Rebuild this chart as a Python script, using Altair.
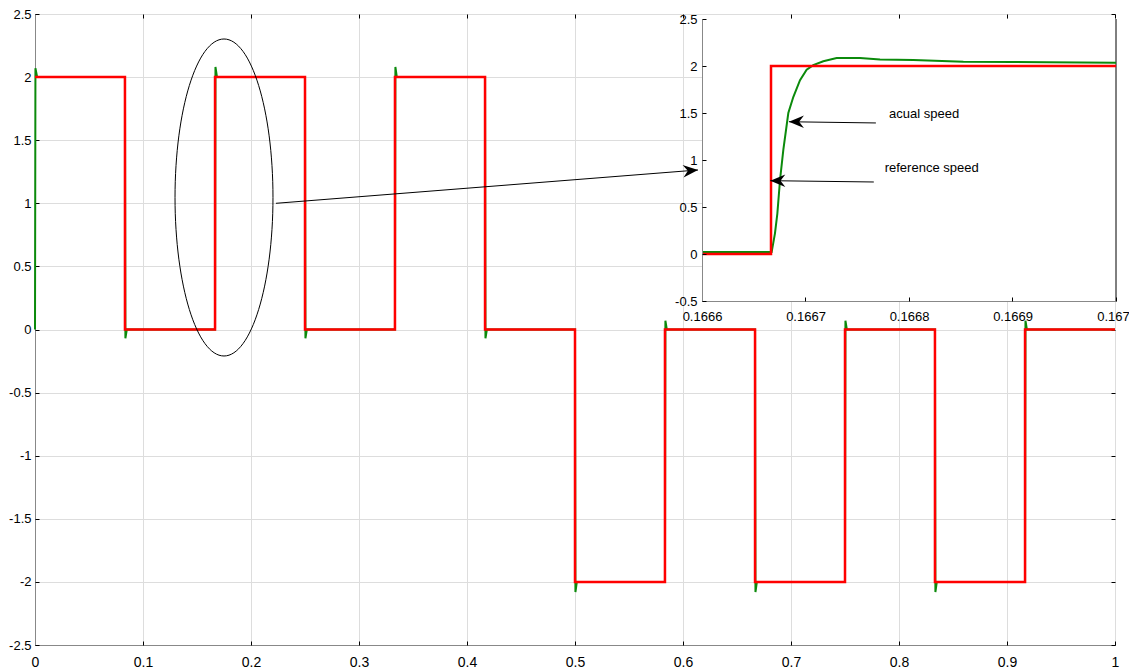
import altair as alt
import pandas as pd

# ---------------- main chart data ----------------
ref_t = [0, 0.0833, 0.1667, 0.25, 0.3333, 0.4167, 0.5, 0.5833, 0.6667, 0.75, 0.8333, 0.9167, 1.0]
ref_v = [2, 0, 2, 0, 2, 0, -2, 0, -2, 0, -2, 0, 0]

act_t = [0, 0.0004, 0.002,
         0.0833, 0.0837, 0.085,
         0.1667, 0.1671, 0.1685,
         0.25, 0.2504, 0.2517,
         0.3333, 0.3337, 0.335,
         0.4167, 0.4171, 0.4184,
         0.5, 0.5004, 0.5017,
         0.5833, 0.5837, 0.585,
         0.6667, 0.6671, 0.6684,
         0.75, 0.7504, 0.7517,
         0.8333, 0.8337, 0.835,
         0.9167, 0.9171, 0.9184,
         1.0]
act_v = [0, 2.07, 2,
         2, -0.07, 0,
         0, 2.08, 2,
         2, -0.07, 0,
         0, 2.08, 2,
         2, -0.07, 0,
         0, -2.08, -2,
         -2, 0.07, 0,
         0, -2.08, -2,
         -2, 0.07, 0,
         0, -2.08, -2,
         -2, 0.07, 0,
         0]

main_x_ticks = [0, 0.1, 0.2, 0.3, 0.4, 0.5, 0.6, 0.7, 0.8, 0.9, 1]
main_y_ticks = [-2.5, -2, -1.5, -1, -0.5, 0, 0.5, 1, 1.5, 2, 2.5]

ellipse_x = [0.175]
ellipse_y = [1.046]
main_arrow_x = [0.2231, 0.6139]
main_arrow_y = [1.0, 1.264]

# ---------------- inset data ----------------
zoom_ref_t = [0.1666, 0.16666667, 0.167]
zoom_ref_v = [0, 2, 2]

zoom_act_t = [0.1666, 0.1666673, 0.1666705, 0.1666728, 0.1666754, 0.1666786, 0.1666834,
              0.1666882, 0.1666947, 0.1667011, 0.1667075, 0.1667172, 0.1667301, 0.1667527,
              0.1667720, 0.1668042, 0.1668525, 0.1669008, 0.1669330, 0.1670]
zoom_act_v = [0.02, 0.02, 0.22, 0.43, 0.79, 1.11, 1.50,
              1.67, 1.85, 1.96, 2.01, 2.05, 2.085, 2.085,
              2.07, 2.064, 2.046, 2.043, 2.039, 2.035]

inset_x_ticks = [0.1666, 0.1667, 0.1668, 0.1669, 0.167]
inset_y_ticks = [-0.5, 0, 0.5, 1, 1.5, 2, 2.5]

labels = ["acual speed", "reference speed"]
label_x = [0.16678068, 0.16677652]
label_y = [1.447, 0.872]
arrow_x1 = [0.166768, 0.166766]
arrow_y1 = [1.394, 0.766]
arrow_x2 = [0.166684, 0.166666]
arrow_y2 = [1.407, 0.780]

FONT = "Liberation Sans"
ARROW = "M0,0 L-1,-0.42 L-0.68,0 L-1,0.42 Z"
ELLIPSE = ("M0,-1 C0.1707,-1 0.309,-0.5523 0.309,0 C0.309,0.5523 0.1707,1 0,1 "
           "C-0.1707,1 -0.309,0.5523 -0.309,0 C-0.309,-0.5523 -0.1707,-1 0,-1 Z")

W, H = 1080, 631
LBL = "datum.value + ''"

# ---------------- main scales / axes ----------------
mx_scale = alt.Scale(domain=[0, 1], nice=False, zero=False)
my_scale = alt.Scale(domain=[-2.5, 2.5], nice=False, zero=False)
mx_axis = alt.Axis(values=main_x_ticks, labelExpr=LBL, grid=True, ticks=False, orient="bottom",
                   labelPadding=10, labelFlush=False, title=None, labelFontSize=14)
my_axis = alt.Axis(values=main_y_ticks, labelExpr=LBL, grid=True, ticks=False, orient="left",
                   labelPadding=4, title=None, labelFontSize=13)


def tick_axis(values, orient, offset):
    return alt.Axis(values=values, orient=orient, offset=offset, labels=False, domain=False,
                    grid=False, ticks=True, tickSize=4, tickColor="black", tickWidth=1,
                    title=None)


def MX(f, axis=None):
    return alt.X(f, type="quantitative", scale=mx_scale, axis=axis)


def MY(f, axis=None):
    return alt.Y(f, type="quantitative", scale=my_scale, axis=axis)


ref_df = pd.DataFrame({"t": ref_t, "v": ref_v})
act_df = pd.DataFrame({"t": act_t, "v": act_v})

green_main = alt.Chart(act_df).mark_line(color="#0b8a0b", strokeWidth=2).encode(
    x=MX("t", mx_axis), y=MY("v", my_axis), order="t:Q")
ticks_a = alt.Chart(ref_df).mark_line(opacity=0).encode(
    x=MX("t", tick_axis(main_x_ticks, "bottom", -4)),
    y=MY("v", tick_axis(main_y_ticks, "left", -4)))
ticks_b = alt.Chart(ref_df).mark_line(opacity=0).encode(
    x=MX("t", tick_axis(main_x_ticks, "top", -4)),
    y=MY("v", tick_axis(main_y_ticks, "right", -4)))
red_main = alt.Chart(ref_df).mark_line(color="#ff0000", strokeWidth=2.5, interpolate="step-after").encode(
    x=MX("t"), y=MY("v"))
ellipse = alt.Chart(pd.DataFrame({"t": ellipse_x, "v": ellipse_y})).mark_point(
    shape=ELLIPSE, size=100489, filled=False, stroke="black", strokeWidth=1, opacity=1).encode(
    x=MX("t"), y=MY("v"))
main_shaft = alt.Chart(pd.DataFrame({"t": [main_arrow_x[0]], "v": [main_arrow_y[0]],
                                     "t2": [main_arrow_x[1]], "v2": [main_arrow_y[1]]})).mark_rule(
    color="black", strokeWidth=1).encode(x=MX("t"), y=MY("v"), x2="t2", y2="v2")
main_head = alt.Chart(pd.DataFrame({"t": [main_arrow_x[1]], "v": [main_arrow_y[1]]})).mark_point(
    shape=ARROW, size=900, filled=True, color="black", opacity=1, angle=355.5).encode(
    x=MX("t"), y=MY("v"))

main = alt.layer(green_main, ticks_a, ticks_b, red_main, ellipse, main_shaft, main_head).resolve_axis(
    x="independent", y="independent")

# ---------------- inset scales / axes ----------------
ix_scale = alt.Scale(domain=[0.1666, 0.167], range=[667, 1081], nice=False, zero=False)
iy_scale = alt.Scale(domain=[-0.5, 2.5], range=[287, 5], nice=False, zero=False)
ix_axis = alt.Axis(orient="bottom", offset=-344, values=inset_x_ticks, labelExpr=LBL,
                   grid=False, ticks=False, labelPadding=9, labelFlush=False, title=None,
                   labelFontSize=13, zindex=2,
                   labelOffset={"condition": {"test": "datum.value >= 0.16695", "value": -3},
                                "value": 0})
iy_axis = alt.Axis(orient="left", offset=-667, values=inset_y_ticks, labelExpr=LBL,
                   grid=False, ticks=False, labelPadding=5, title=None, labelFontSize=13, zindex=2)


def itick_axis(values, orient, offset):
    return alt.Axis(values=values, orient=orient, offset=offset, labels=False, domain=False,
                    grid=False, ticks=True, tickSize=4, tickColor="black", tickWidth=1,
                    title=None, zindex=2)


def IX(f, axis=None):
    return alt.X(f, type="quantitative", scale=ix_scale, axis=axis)


def IY(f, axis=None):
    return alt.Y(f, type="quantitative", scale=iy_scale, axis=axis)


bg = alt.Chart(pd.DataFrame({"t": [inset_x_ticks[0]], "t2": [inset_x_ticks[-1]],
                             "v": [inset_y_ticks[0]], "v2": [inset_y_ticks[-1]]})).mark_rect(
    fill="white", stroke=None).encode(x=IX("t", ix_axis), x2="t2", y=IY("v", iy_axis), y2="v2")
iticks = alt.Chart(pd.DataFrame({"t": zoom_ref_t, "v": zoom_ref_v})).mark_line(opacity=0).encode(
    x=IX("t", itick_axis(inset_x_ticks, "bottom", -348)),
    y=IY("v", itick_axis(inset_y_ticks, "left", -671)))
right_edge = alt.Chart(pd.DataFrame({"t": [inset_x_ticks[-1]], "v": [inset_y_ticks[0]],
                                     "v2": [inset_y_ticks[-1]]})).mark_rule(
    color="black", strokeWidth=1).encode(x=IX("t"), y=IY("v"), y2="v2")
green_in = alt.Chart(pd.DataFrame({"t": zoom_act_t, "v": zoom_act_v})).mark_line(
    color="#0b8a0b", strokeWidth=2).encode(x=IX("t"), y=IY("v"), order="t:Q")
red_in = alt.Chart(pd.DataFrame({"t": zoom_ref_t, "v": zoom_ref_v})).mark_line(
    color="#ff0000", strokeWidth=2.5, interpolate="step-after").encode(x=IX("t"), y=IY("v"))
arr_df = pd.DataFrame({"t": arrow_x1, "v": arrow_y1, "t2": arrow_x2, "v2": arrow_y2})
shafts = alt.Chart(arr_df).mark_rule(color="black", strokeWidth=1).encode(
    x=IX("t"), y=IY("v"), x2="t2", y2="v2")
heads = alt.Chart(pd.DataFrame({"t": arrow_x2, "v": arrow_y2})).mark_point(
    shape=ARROW, size=900, filled=True, color="black", opacity=1, angle=180).encode(
    x=IX("t"), y=IY("v"))
texts = alt.Chart(pd.DataFrame({"t": label_x, "v": label_y, "txt": labels})).mark_text(
    align="left", baseline="alphabetic", font=FONT, fontSize=13, color="black").encode(
    x=IX("t"), y=IY("v"), text="txt:N")

inset = alt.layer(bg, iticks, right_edge, green_in, red_in, shafts, heads, texts).resolve_axis(
    x="independent", y="independent")

chart = alt.layer(main, inset).resolve_scale(x="independent", y="independent").properties(
    width=W, height=H,
    autosize=alt.AutoSizeParams(type="none"),
    padding={"left": 27, "top": 6, "right": 14, "bottom": 24},
).configure_view(stroke="black", strokeWidth=1).configure_axis(
    labelFont=FONT, labelColor="black", domainColor="black", domainWidth=1,
    gridColor="#7a7a7a", gridWidth=1, gridOpacity=1,
).configure(background="white")

chart.save("out.html", embed_options={"renderer": "svg", "actions": False})
